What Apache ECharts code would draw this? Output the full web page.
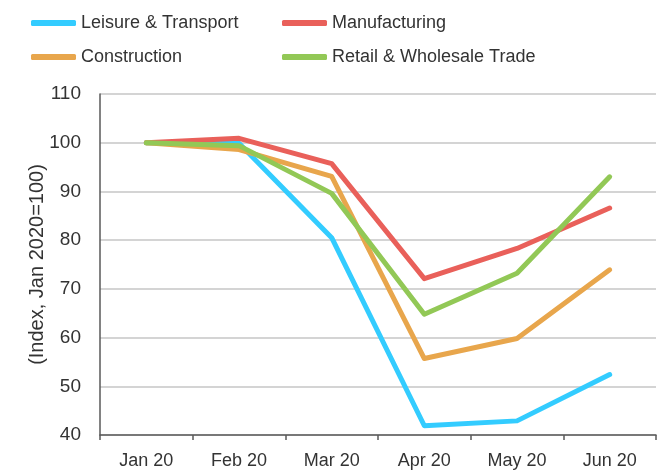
<!DOCTYPE html>
<html>
<head>
<meta charset="utf-8">
<script src="https://cdn.jsdelivr.net/npm/echarts@6/dist/echarts.min.js"></script>
<style>
  html, body { margin: 0; padding: 0; background: #fff; }
  #chart { width: 657px; height: 470px; }
</style>
</head>
<body>
<div id="chart"></div>
<script>
// months on the x axis
const months = ['Jan 20', 'Feb 20', 'Mar 20', 'Apr 20', 'May 20', 'Jun 20'];

// index values (Jan 2020 = 100)
const leisure = [100, 99.9, 80.5, 41.9, 42.9, 52.4];
const manufacturing = [100, 100.9, 95.7, 72.1, 78.3, 86.6];
const construction = [100, 98.6, 93.1, 55.7, 59.8, 73.9];
const retail = [100, 99.4, 89.6, 64.8, 73.2, 93.0];

const colors = {
    leisure: '#33ccff',
    manufacturing: '#e9605a',
    construction: '#e8a64c',
    retail: '#92c856'
};

const font = 'Liberation Sans, Arial, sans-serif';

function lineSeries(name, data, color) {
    return {
        name: name,
        type: 'line',
        data: data,
        symbol: 'none',
        color: color,
        lineStyle: { width: 5, color: color, cap: 'round', join: 'round' },
        animation: false
    };
}

function legendCol(left, names) {
    return {
        orient: 'vertical',
        left: left,
        top: 9,
        itemWidth: 45,
        itemHeight: 6,
        itemGap: 16,
        icon: 'roundRect',
        textStyle: { fontFamily: font, fontSize: 18, color: '#333' },
        data: names
    };
}

const chart = echarts.init(document.getElementById('chart'), null, { renderer: 'canvas' });
chart.setOption({
    animation: false,
    legend: [
        legendCol(26, ['Leisure & Transport', 'Construction']),
        legendCol(277, ['Manufacturing', 'Retail & Wholesale Trade'])
    ],
    grid: { left: 100, right: 1, top: 94, bottom: 34 },
    xAxis: {
        type: 'category',
        data: months,
        boundaryGap: true,
        axisLine: { lineStyle: { color: '#595959', width: 1.5 } },
        axisTick: { show: true, length: 5, lineStyle: { color: '#595959', width: 1.5 } },
        axisLabel: { fontFamily: font, fontSize: 18, color: '#333', margin: 17 }
    },
    yAxis: {
        type: 'value',
        min: 40,
        max: 110,
        interval: 10,
        name: '(Index, Jan 2020=100)',
        nameLocation: 'middle',
        nameGap: 53,
        nameMoveOverlap: false,
        nameTextStyle: { fontFamily: font, fontSize: 20, color: '#333' },
        axisLine: { show: true, lineStyle: { color: '#595959', width: 1.5 } },
        axisTick: { show: false },
        splitLine: { lineStyle: { color: '#c6c6c6', width: 1.5 } },
        axisLabel: { fontFamily: font, fontSize: 19, color: '#333', margin: 19 }
    },
    series: [
        lineSeries('Leisure & Transport', leisure, colors.leisure),
        lineSeries('Manufacturing', manufacturing, colors.manufacturing),
        lineSeries('Construction', construction, colors.construction),
        lineSeries('Retail & Wholesale Trade', retail, colors.retail)
    ]
});
</script>
</body>
</html>
